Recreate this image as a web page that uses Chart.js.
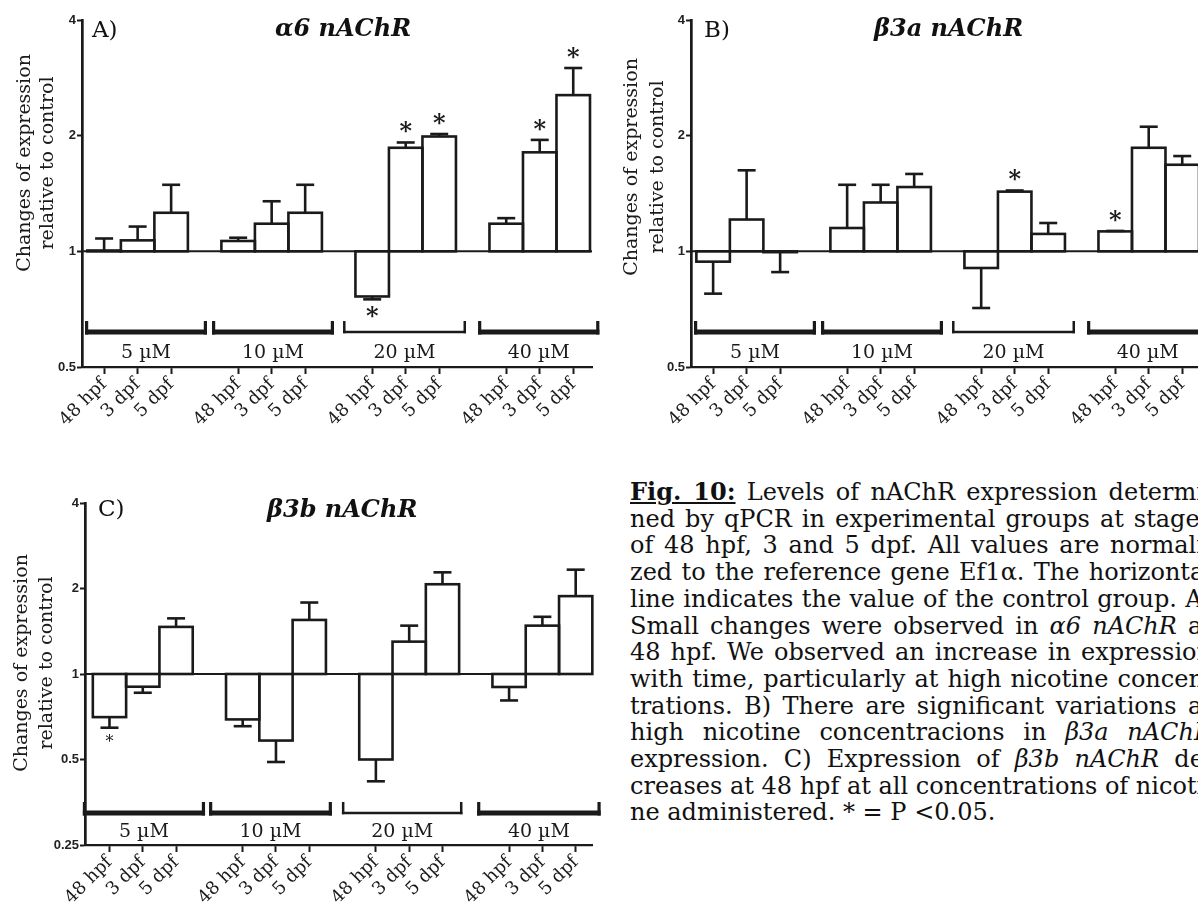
<!DOCTYPE html>
<html><head><meta charset="utf-8">
<script src="https://cdn.jsdelivr.net/npm/chart.js@4.4.1/dist/chart.umd.min.js"></script>
<style>
html,body{margin:0;padding:0;background:#fff;}
body{width:1198px;height:908px;overflow:hidden;position:relative;font-family:'DejaVu Serif',serif;color:#111;}
canvas{position:absolute;}
.lab{position:absolute;white-space:nowrap;font-size:23px;line-height:24px;}
.ttl{position:absolute;white-space:nowrap;font-weight:bold;font-style:italic;font-size:24px;line-height:24px;}
#cap{position:absolute;left:630px;top:479px;font-size:24px;line-height:26.7px;}
#cap .l{width:582px;white-space:nowrap;text-align:justify;text-align-last:justify;}
#cap .l.last{text-align-last:left;}
</style></head><body>
<canvas id="cA" width="605" height="440" style="left:0;top:0"></canvas>
<canvas id="cB" width="605" height="440" style="left:609px;top:0"></canvas>
<canvas id="cC" width="605" height="430" style="left:3px;top:483px"></canvas>
<div class="lab" style="left:92px;top:17px">A)</div>
<div class="ttl" style="left:275px;top:16px">α6 nAChR</div>
<div class="lab" style="left:704px;top:17px">B)</div>
<div class="ttl" style="left:874px;top:16px">β3a nAChR</div>
<div class="lab" style="left:98px;top:496px">C)</div>
<div class="ttl" style="left:267px;top:497px">β3b nAChR</div>
<div id="cap">
<div class="l"><b><u>Fig. 10:</u></b> Levels of nAChR expression determi-</div>
<div class="l">ned by qPCR in experimental groups at stages</div>
<div class="l">of 48 hpf, 3 and 5 dpf. All values are normali-</div>
<div class="l">zed to the reference gene Ef1α. The horizontal</div>
<div class="l">line indicates the value of the control group. A)</div>
<div class="l">Small changes were observed in <i>α6 nAChR</i> at</div>
<div class="l">48 hpf. We observed an increase in expression</div>
<div class="l">with time, particularly at high nicotine concen-</div>
<div class="l">trations. B) There are significant variations at</div>
<div class="l">high nicotine concentracions in <i>β3a nAChR</i></div>
<div class="l">expression. C) Expression of <i>β3b nAChR</i> de-</div>
<div class="l">creases at 48 hpf at all concentrations of nicoti-</div>
<div class="l last">ne administered. * = P &lt;0.05.</div>
</div>
<script>
// ---- data ----
const stages = ['48 hpf', '3 dpf', '5 dpf'];
const concentrations = ['5 µM', '10 µM', '20 µM', '40 µM'];
const yTicksAB = [0.5, 1, 2, 4];
const yTicksC = [0.25, 0.5, 1, 2, 4];
const yTitle = ['Changes of expression', 'relative to control'];

const a6Values = [1.005, 1.068, 1.26, 1.064, 1.18, 1.26, 0.763, 1.86, 1.99, 1.18, 1.81, 2.55];
const a6Errors = [1.08, 1.16, 1.49, 1.085, 1.35, 1.49, 0.75, 1.92, 2.02, 1.22, 1.95, 3.0];
const a6Sig = [0, 0, 0, 0, 0, 0, 1, 1, 1, 0, 1, 1];

const b3aValues = [0.94, 1.21, 0.995, 1.15, 1.34, 1.47, 0.905, 1.43, 1.11, 1.127, 1.86, 1.68];
const b3aErrors = [0.776, 1.625, 0.883, 1.49, 1.49, 1.59, 0.712, 1.44, 1.185, 1.13, 2.11, 1.77];
const b3aSig = [0, 0, 0, 0, 0, 0, 0, 1, 0, 1, 0, 0];

const b3bValues = [0.705, 0.902, 1.465, 0.692, 0.583, 1.55, 0.5, 1.30, 2.07, 0.9, 1.48, 1.88];
const b3bErrors = [0.647, 0.859, 1.57, 0.655, 0.49, 1.785, 0.419, 1.48, 2.28, 0.807, 1.59, 2.33];
const b3bSig = [1, 0, 0, 0, 0, 0, 0, 0, 0, 0, 0, 0];

// x index of each bar (three stages per group, one empty slot between groups)
const positions = [];
concentrations.forEach((c, g) => stages.forEach((s, i) => positions.push(g * (stages.length + 1) + i)));
const stageAt = {};
positions.forEach((p, k) => stageAt[p] = stages[k % stages.length]);

const INK = '#1a1a1a';

function line(ctx, x0, y0, x1, y1) { ctx.beginPath(); ctx.moveTo(x0, y0); ctx.lineTo(x1, y1); ctx.stroke(); }

function makePlugin(cfg) {
  return {
    id: 'nachr_' + cfg.id,
    afterDatasetsDraw(chart) {
      const { ctx, chartArea: a, scales: { x, y } } = chart;
      ctx.save();
      ctx.strokeStyle = INK; ctx.fillStyle = INK; ctx.lineCap = 'butt';
      // control baseline
      const y1 = y.getPixelForValue(1);
      ctx.lineWidth = 2;
      line(ctx, a.left, y1, a.right, y1);
      // bar outlines
      const meta = chart.getDatasetMeta(0);
      ctx.lineWidth = 2.6;
      meta.data.forEach(el => {
        const p = el.getProps(['x', 'y', 'base', 'width'], true);
        ctx.strokeRect(p.x - p.width / 2, Math.min(p.y, p.base), p.width, Math.abs(p.base - p.y));
      });
      // error bars + significance
      cfg.values.forEach((v, k) => {
        const px = x.getPixelForValue(positions[k]);
        const pv = y.getPixelForValue(v);
        const pe = y.getPixelForValue(cfg.errors[k]);
        ctx.lineWidth = 2.6;
        line(ctx, px, pv, px, pe);
        line(ctx, px - 9, pe, px + 9, pe);
        if (cfg.sig[k]) {
          const up = v >= 1;
          const cy = up ? pe - 17 : pe + cfg.sigBelow;
          ctx.font = cfg.sigFont;
          ctx.textAlign = 'center'; ctx.textBaseline = 'alphabetic';
          ctx.fillText('*', px, cy + cfg.sigSize * 0.58);
        }
      });
      // concentration brackets
      concentrations.forEach((c, g) => {
        const thin = g === 2;
        const base = g * (stages.length + 1);
        const x0 = x.getPixelForValue(base + cfg.spans[g][0]);
        const x1 = x.getPixelForValue(base + cfg.spans[g][1]);
        const yb = a.bottom - cfg.brY;
        const th = thin ? 2.5 : 5;
        ctx.lineWidth = th;
        line(ctx, x0, yb, x1, yb);
        ctx.lineWidth = thin ? 2.5 : 3.2;
        line(ctx, x0 + ctx.lineWidth / 2, yb + th / 2, x0 + ctx.lineWidth / 2, yb - 11);
        line(ctx, x1 - ctx.lineWidth / 2, yb + th / 2, x1 - ctx.lineWidth / 2, yb - 11);
        ctx.font = '19px "DejaVu Serif"';
        ctx.textAlign = 'center'; ctx.textBaseline = 'middle';
        ctx.fillText(c, (x0 + x1) / 2, a.bottom - cfg.labY);
      });
      ctx.restore();
    },
    afterDraw(chart) {
      const ctx = chart.ctx;
      ctx.save();
      ctx.fillStyle = INK;
      ctx.font = '19px "DejaVu Serif"';
      ctx.textAlign = 'center'; ctx.textBaseline = 'middle';
      yTitle.forEach((t, i) => {
        ctx.save();
        ctx.translate(cfg.titleX[i], cfg.titleCY);
        ctx.rotate(-Math.PI / 2);
        ctx.fillText(t, 0, 0);
        ctx.restore();
      });
      ctx.restore();
    }
  };
}

function makeChart(id, cfg) {
  const data = cfg.values.map((v, k) => ({ x: positions[k], y: [1, v] }));
  new Chart(document.getElementById(id), {
    type: 'bar',
    data: { datasets: [{ data, backgroundColor: '#fff', borderWidth: 0, barPercentage: 1, categoryPercentage: 1 }] },
    options: {
      responsive: false, animation: false, devicePixelRatio: 1,
      layout: { padding: { left: 0, top: cfg.padTop, right: cfg.padRight, bottom: 0 } },
      plugins: { legend: { display: false }, tooltip: { enabled: false }, title: { display: false } },
      scales: {
        x: {
          type: 'linear', min: cfg.xMin, max: cfg.xMax, offset: false,
          afterBuildTicks: s => { s.ticks = positions.map(p => ({ value: p })); },
          afterFit: s => { s.height = cfg.xHeight; },
          ticks: {
            autoSkip: false, maxRotation: 45, minRotation: 45, padding: 0,
            color: INK, font: { family: 'DejaVu Serif', size: 18 },
            callback: v => stageAt[v] || ''
          },
          grid: { offset: false, drawOnChartArea: false, drawTicks: true, tickLength: 7, tickWidth: 2, color: INK },
          border: { display: true, width: 2.2, color: INK }
        },
        y: {
          type: 'logarithmic', min: cfg.yTicks[0], max: cfg.yTicks[cfg.yTicks.length - 1],
          afterBuildTicks: s => { s.ticks = cfg.yTicks.map(v => ({ value: v })); },
          afterFit: s => { s.width = cfg.yWidth; },
          ticks: {
            color: '#222', padding: 1,
            font: { family: 'Liberation Sans', weight: 'bold', size: 13 },
            callback: v => String(v)
          },
          grid: { drawOnChartArea: false, drawTicks: true, tickLength: 5, tickWidth: 2, color: INK },
          border: { display: true, width: 2.7, color: INK }
        }
      }
    },
    plugins: [makePlugin(cfg)]
  });
}

const spansAB = [[-0.57, 3.07], [-0.78, 2.86], [-0.87, 2.8], [-0.84, 2.78]];
const spansC = [[-0.8, 2.87], [-1.01, 2.68], [-1.02, 2.6], [-0.96, 2.75]];

makeChart('cA', { id: 'A', values: a6Values, errors: a6Errors, sig: a6Sig, yTicks: yTicksAB,
  xMin: -0.66, xMax: 14.56, padTop: 20, padRight: 13, xHeight: 73, yWidth: 82,
  titleX: [25, 48], titleCY: 163, spans: spansAB, brY: 35, labY: 14,
  sigFont: 'bold 24px "DejaVu Serif"', sigSize: 24, sigBelow: 11 });
makeChart('cB', { id: 'B', values: b3aValues, errors: b3aErrors, sig: b3aSig, yTicks: yTicksAB,
  xMin: -0.66, xMax: 14.56, padTop: 20, padRight: 13, xHeight: 73, yWidth: 82,
  titleX: [23, 49], titleCY: 167, spans: spansAB, brY: 35, labY: 14,
  sigFont: 'bold 24px "DejaVu Serif"', sigSize: 24, sigBelow: 11 });
makeChart('cC', { id: 'C', values: b3bValues, errors: b3bErrors, sig: b3bSig, yTicks: yTicksC,
  xMin: -0.735, xMax: 14.49, padTop: 20, padRight: 16, xHeight: 68, yWidth: 82,
  titleX: [19, 44], titleCY: 180, spans: spansC, brY: 32, labY: 13,
  sigFont: '16px "DejaVu Serif"', sigSize: 16, sigBelow: 10 });
</script>
</body></html>
